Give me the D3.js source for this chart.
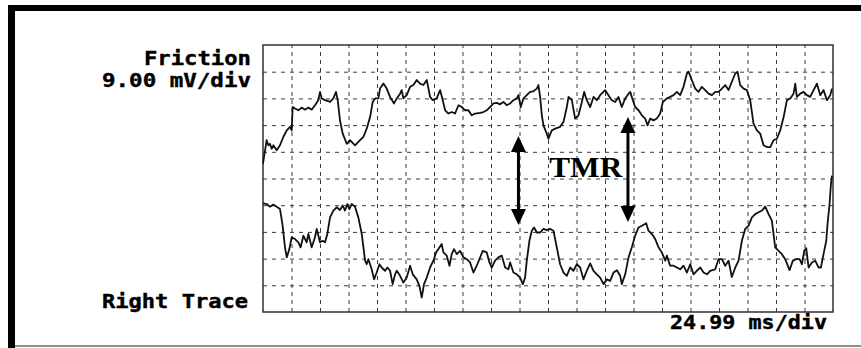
<!DOCTYPE html>
<html>
<head>
<meta charset="utf-8">
<script src="https://cdn.jsdelivr.net/npm/d3@7"></script>
<style>
  html, body { margin: 0; padding: 0; background: #fff; }
  svg { display: block; }
</style>
</head>
<body>
<svg id="chart" width="861" height="348"></svg>
<script>
// Oscilloscope settings
const msPerDiv = 24.99;
const mvPerDiv = 9.00;
const xDivs = 20;
const yDivs = 10;

// Friction channel: [time ms, mV]
const frictionTrace = [
  [0,5.0],[3.2,12.9],[4.7,11.2],[6.1,11.7],[7.6,10.0],[9.1,11.2],[12.0,9.5],[14.9,11.2],[17.8,14.0],
  [20.8,16.2],[23.7,17.4],[25.2,16.2],[26.0,24.1],[28.1,23.6],[31.0,23.0],[33.9,23.9],[36.8,23.2],
  [39.8,23.9],[42.7,23.2],[45.6,24.7],[48.5,26.4],[50.0,29.2],[51.5,27.0],[54.4,26.4],[58.8,25.8],
  [61.7,27.0],[64.0,29.2],[65.5,26.4],[67.5,19.6],[69.9,15.1],[73.4,11.7],[76.3,12.9],[80.7,11.2],
  [85.1,12.9],[88.0,14.0],[90.9,16.8],[93.9,20.7],[96.2,25.8],[98.3,27.0],[101.2,27.0],[102.6,30.3],
  [105.6,32.0],[108.5,30.3],[111.4,27.5],[114.9,25.3],[117.3,27.0],[120.2,28.6],[121.6,29.8],
  [123.1,27.0],[126.0,28.1],[129.0,30.9],[131.9,31.5],[134.8,33.2],[137.7,32.0],[140.6,31.5],
  [143.6,33.2],[146.5,27.5],[148.8,26.4],[152.3,27.0],[155.3,29.8],[157.6,26.4],[159.7,23.0],
  [162.6,21.9],[165.5,22.4],[168.4,21.9],[171.4,24.7],[174.3,24.1],[177.2,23.0],[180.1,23.0],
  [183.0,21.3],[186.0,21.9],[190.4,22.1],[193.3,22.4],[196.2,23.0],[199.1,24.1],[202.1,25.3],
  [205.0,25.5],[207.9,25.0],[210.8,25.8],[213.7,24.7],[216.7,25.3],[219.6,26.4],[222.5,27.0],
  [224.0,28.1],[226.0,24.1],[228.4,27.0],[231.3,28.1],[234.2,29.2],[237.1,29.4],[240.1,30.3],
  [241.5,31.5],[243.0,27.5],[244.5,21.3],[245.9,17.9],[248.8,15.1],[250.3,13.4],[253.2,16.2],
  [256.2,16.8],[260.5,17.4],[263.5,19.1],[266.4,24.1],[267.9,27.5],[270.8,26.4],[273.7,20.2],
  [276.6,21.3],[279.6,25.8],[281.6,29.2],[283.9,26.4],[286.9,24.1],[289.8,27.5],[292.7,26.4],
  [295.6,28.1],[300.0,29.8],[302.9,28.1],[305.9,26.4],[308.8,25.8],[311.7,27.5],[314.6,24.1],
  [317.6,27.0],[320.5,28.6],[322.0,29.2],[324.3,26.4],[326.3,24.1],[329.3,23.0],[332.2,21.3],
  [335.1,20.2],[337.2,17.9],[339.5,20.2],[342.4,19.6],[345.3,20.2],[348.3,21.9],[350.6,25.8],
  [354.1,27.0],[357.0,27.5],[360.0,28.1],[362.9,29.2],[365.8,28.1],[368.7,30.9],[371.7,35.4],
  [373.1,36.0],[376.0,33.2],[379.0,30.3],[381.9,29.2],[384.8,30.9],[387.7,29.8],[390.7,28.6],
  [393.6,28.1],[396.5,29.2],[399.4,29.2],[402.4,30.3],[405.3,31.5],[408.2,29.8],[411.1,32.6],
  [414.1,35.4],[416.1,36.0],[418.4,31.5],[421.4,30.3],[424.3,29.8],[427.2,26.4],[430.1,18.5],
  [433.1,16.2],[436.0,15.1],[438.9,11.2],[441.8,10.6],[444.8,10.6],[447.7,12.9],[450.6,13.4],
  [453.5,16.2],[456.5,20.7],[459.4,26.4],[462.3,27.0],[465.2,28.6],[466.7,32.0],[468.1,27.5],
  [471.1,28.6],[474.0,29.2],[476.9,28.1],[479.8,27.5],[482.8,29.8],[485.7,32.0],[488.6,28.1],
  [491.5,29.8],[494.5,26.4],[497.4,28.1],[498.9,30.3]
];

// Right trace channel: [time ms, mV]
const rightTrace = [
  [0,-8.3],[3.2,-8.6],[6.1,-9.5],[9.1,-8.8],[12.0,-9.5],[14.9,-10.3],[17.0,-15.3],[19.3,-23.2],
  [20.8,-26.6],[23.1,-23.8],[25.2,-19.8],[28.1,-20.4],[31.0,-21.5],[33.0,-23.2],[35.4,-19.3],
  [38.3,-21.5],[39.8,-18.7],[42.7,-23.2],[45.6,-19.8],[47.1,-17.0],[50.0,-21.5],[52.3,-21.0],
  [54.4,-21.5],[56.4,-18.7],[58.8,-13.1],[61.7,-10.8],[64.6,-9.7],[67.5,-10.6],[69.9,-9.1],
  [71.9,-10.8],[74.0,-8.6],[75.7,-10.3],[77.8,-8.6],[80.7,-9.5],[83.6,-13.1],[86.6,-18.7],
  [89.5,-27.7],[90.9,-28.9],[92.4,-27.2],[95.3,-30.6],[97.4,-34.0],[99.7,-31.7],[102.1,-28.9],
  [104.1,-30.0],[107.0,-31.1],[109.1,-30.0],[111.4,-31.1],[113.7,-35.6],[115.8,-32.3],[117.3,-31.1],
  [120.2,-32.8],[123.1,-35.1],[126.0,-33.4],[129.0,-29.4],[131.3,-32.3],[134.8,-34.0],[137.1,-36.2],
  [139.2,-40.1],[141.2,-35.6],[143.6,-33.4],[146.5,-30.0],[149.4,-27.7],[151.8,-24.9],[153.8,-23.8],
  [156.7,-22.1],[158.2,-24.9],[161.1,-26.0],[163.5,-29.4],[165.5,-25.5],[167.5,-23.8],[169.9,-25.5],
  [172.8,-24.4],[175.7,-26.6],[178.7,-27.2],[181.6,-28.3],[184.5,-31.7],[187.4,-29.4],[190.4,-26.6],
  [192.7,-24.4],[196.2,-24.9],[198.5,-28.3],[200.6,-30.0],[203.5,-27.7],[206.4,-26.6],[209.4,-26.0],
  [212.3,-30.0],[215.2,-30.6],[216.7,-28.3],[219.6,-31.7],[222.5,-32.3],[225.4,-33.4],[227.8,-35.6],
  [229.8,-33.4],[231.3,-27.7],[233.6,-21.0],[235.7,-17.6],[237.7,-16.5],[240.1,-18.2],[243.0,-18.2],
  [245.9,-17.0],[248.8,-17.4],[251.8,-17.0],[254.7,-17.6],[257.6,-23.2],[260.5,-28.9],[263.5,-31.7],
  [266.4,-32.8],[269.3,-30.0],[272.2,-31.1],[275.2,-28.9],[278.1,-30.0],[281.0,-34.0],[283.9,-31.1],
  [286.9,-28.6],[289.8,-31.1],[292.7,-32.3],[295.6,-33.4],[298.6,-35.6],[301.5,-34.0],[304.4,-34.5],
  [307.3,-31.7],[310.3,-30.9],[313.2,-32.8],[314.6,-35.6],[317.6,-32.3],[320.5,-26.6],[323.4,-23.2],
  [326.3,-19.3],[329.3,-16.5],[332.2,-15.9],[336.0,-15.1],[338.0,-17.6],[341.0,-18.7],[343.9,-20.4],
  [346.8,-23.2],[349.7,-24.9],[352.7,-27.7],[354.1,-26.0],[357.0,-29.4],[360.0,-29.4],[362.9,-30.0],
  [365.8,-30.6],[368.7,-29.4],[371.7,-31.7],[374.6,-28.9],[377.5,-32.3],[380.4,-31.1],[383.4,-30.0],
  [386.3,-31.7],[389.2,-32.3],[392.1,-31.1],[396.5,-30.6],[399.4,-27.2],[402.4,-27.2],[405.3,-29.4],
  [408.2,-27.7],[411.1,-33.2],[414.1,-30.0],[417.0,-27.7],[419.9,-21.0],[422.8,-17.0],[425.8,-15.9],
  [428.7,-13.1],[431.6,-12.0],[434.5,-11.4],[437.5,-10.8],[440.4,-9.5],[443.3,-12.0],[446.2,-14.2],
  [449.1,-23.2],[452.1,-24.4],[455.0,-25.5],[457.9,-27.2],[461.7,-30.9],[464.6,-27.7],[467.6,-27.2],
  [470.5,-27.2],[472.5,-28.9],[474.6,-24.4],[476.3,-23.5],[478.4,-30.0],[481.3,-28.3],[484.2,-27.7],
  [487.2,-30.0],[489.2,-30.0],[491.5,-25.5],[493.9,-21.0],[495.0,-15.3],[496.8,-8.6],[498.0,-1.8],
  [498.9,1.0]
];

// Double-headed TMR markers: time ms, upper and lower tip in mV
const tmrMarkers = [
  { t: 224, top: 14.3, bottom: -15.7 },
  { t: 320, top: 20.7, bottom: -14.7 }
];
const tmrLabel = { text: "TMR", t: 283, v: 0.5 };

const channelName = "Friction";
const channelScale = "9.00 mV/div";
const traceName = "Right Trace";
const timeScale = "24.99 ms/div";

const svg = d3.select("#chart");
const W = 861, H = 348;
const plot = { left: 263, top: 45, right: 833, bottom: 312 };

svg.append("rect").attr("width", W).attr("height", H).attr("fill", "#fff");

// Page frame: heavy top and left rules, thin gray bottom rule
svg.append("rect").attr("x", 8).attr("y", 5).attr("width", W - 8).attr("height", 6).attr("fill", "#000");
svg.append("rect").attr("x", 8).attr("y", 5).attr("width", 7).attr("height", H - 5).attr("fill", "#000");
svg.append("line").attr("x1", 15).attr("x2", W).attr("y1", 346).attr("y2", 346)
  .attr("stroke", "#6a6a6a").attr("stroke-width", 1.5);

const x = d3.scaleLinear().domain([0, xDivs * msPerDiv]).range([plot.left, plot.right]);
const y = d3.scaleLinear().domain([-yDivs / 2 * mvPerDiv, yDivs / 2 * mvPerDiv]).range([plot.bottom, plot.top]);

// Graticule
const grid = svg.append("g");
grid.append("g")
  .attr("transform", `translate(0,${plot.bottom})`)
  .call(d3.axisBottom(x)
    .tickValues(d3.range(1, xDivs).map(i => i * msPerDiv))
    .tickSize(-(plot.bottom - plot.top))
    .tickFormat(""))
  .call(g => g.select(".domain").remove())
  .call(g => g.selectAll(".tick line").attr("stroke", "#3a3a3a").attr("stroke-width", 1).attr("stroke-dasharray", "4,4"));

grid.append("g")
  .attr("transform", `translate(${plot.left},0)`)
  .call(d3.axisLeft(y)
    .tickValues(d3.range(1, yDivs).map(i => -yDivs / 2 * mvPerDiv + i * mvPerDiv))
    .tickSize(-(plot.right - plot.left))
    .tickFormat(""))
  .call(g => g.select(".domain").remove())
  .call(g => g.selectAll(".tick line").attr("stroke", "#3a3a3a").attr("stroke-width", 1).attr("stroke-dasharray", "4,5"));

// Screen border
svg.append("rect")
  .attr("x", plot.left).attr("y", plot.top)
  .attr("width", plot.right - plot.left).attr("height", plot.bottom - plot.top)
  .attr("fill", "none").attr("stroke", "#222").attr("stroke-width", 1.4);

// Traces
const line = d3.line().x(d => x(d[0])).y(d => y(d[1]));
[frictionTrace, rightTrace].forEach(tr => {
  svg.append("path").datum(tr)
    .attr("d", line)
    .attr("fill", "none")
    .attr("stroke", "#111")
    .attr("stroke-width", 1.8)
    .attr("stroke-linejoin", "round");
});

// TMR arrows
const headW = 15, headH = 16;
const arrows = svg.append("g");
tmrMarkers.forEach(m => {
  const cx = x(m.t), yTop = y(m.top), yBot = y(m.bottom);
  arrows.append("line")
    .attr("x1", cx).attr("x2", cx)
    .attr("y1", yTop + headH - 2).attr("y2", yBot - headH + 2)
    .attr("stroke", "#000").attr("stroke-width", 3);
  arrows.append("path")
    .attr("d", `M${cx},${yTop} L${cx - headW / 2},${yTop + headH} L${cx + headW / 2},${yTop + headH} Z`)
    .attr("fill", "#000");
  arrows.append("path")
    .attr("d", `M${cx},${yBot} L${cx - headW / 2},${yBot - headH} L${cx + headW / 2},${yBot - headH} Z`)
    .attr("fill", "#000");
});

svg.append("text")
  .attr("x", x(tmrLabel.t)).attr("y", y(tmrLabel.v))
  .attr("text-anchor", "middle")
  .attr("font-family", "'Liberation Serif', 'Times New Roman', serif")
  .attr("font-weight", "bold")
  .attr("font-size", 30)
  .attr("textLength", 73)
  .attr("lengthAdjust", "spacingAndGlyphs")
  .text(tmrLabel.text);

// Scope readouts
const mono = "'DejaVu Sans Mono', 'Liberation Mono', monospace";
function readout(text, xStart, baseline, width) {
  svg.append("text")
    .attr("x", xStart).attr("y", baseline)
    .attr("font-family", mono)
    .attr("font-weight", "bold")
    .attr("font-size", 19)
    .attr("fill", "#000")
    .attr("stroke", "#000")
    .attr("stroke-width", 0.4)
    .attr("textLength", width)
    .attr("lengthAdjust", "spacingAndGlyphs")
    .text(text);
}
readout(channelName, 144, 65, 107);
readout(channelScale, 102, 87, 149);
readout(traceName, 102, 308, 146);
readout(timeScale, 670, 329, 157);
</script>
</body>
</html>
